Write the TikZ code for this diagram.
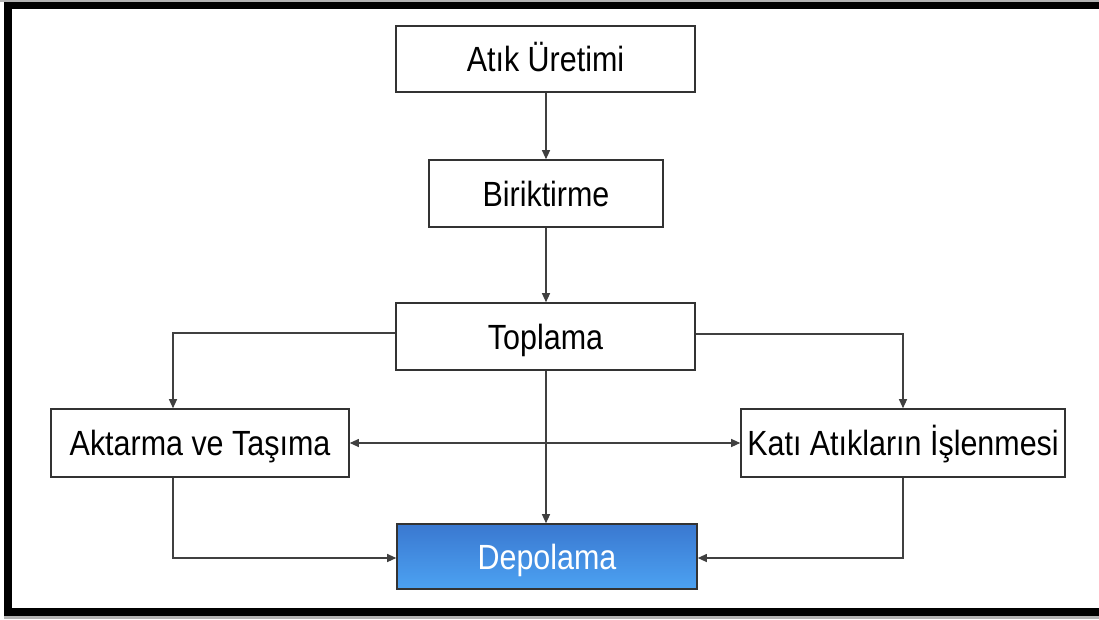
\documentclass[tikz,border=0pt]{standalone}
\usepackage{fontspec}
\newfontfamily\labfont[FakeStretch=0.87]{Liberation Sans}
\usetikzlibrary{arrows.meta}
\definecolor{boxline}{HTML}{333333}
\definecolor{conline}{HTML}{404040}
\definecolor{deptop}{HTML}{3A78D0}
\definecolor{depbot}{HTML}{4CA2F2}
\tikzset{
  stagebox/.style={draw=boxline, line width=1.6pt, fill=white, inner sep=0pt,
    text height=25pt, text depth=0pt, font=\labfont\fontsize{35}{40}\selectfont, text=black},
  bluebox/.style={stagebox, top color=deptop, bottom color=depbot, text=white},
  conn/.style={draw=conline, line width=1.1pt, -{Triangle[length=9pt,width=8pt]}},
  dconn/.style={draw=conline, line width=1.1pt, {Triangle[length=9pt,width=8pt]}-{Triangle[length=9pt,width=8pt]}},
  plain/.style={draw=conline, line width=1.1pt}
}
\begin{document}
\begin{tikzpicture}[x=1pt,y=-1pt]
\useasboundingbox (0,0) rectangle (1099,619);
\fill[white] (0,0) rectangle (1099,619);
% frame
\fill[gray!60] (0,0) rectangle (1099,2);
\fill[gray!60] (4,616) rectangle (1099,619);
\fill[black] (4,2) rectangle (1099,9);
\fill[black] (4,2) rectangle (12,616);
\fill[black] (4,608) rectangle (1099,616);
% nodes
\node[stagebox, minimum width=299pt, minimum height=66pt] (uretim) at (545.5,59) {Atık Üretimi};
\node[stagebox, minimum width=234pt, minimum height=67pt] (birik) at (546,193.5) {Biriktirme};
\node[stagebox, minimum width=299pt, minimum height=67pt] (topla) at (545.5,336.5) {Toplama};
\node[stagebox, minimum width=298pt, minimum height=68pt] (aktar) at (200,443) {Aktarma ve Taşıma};
\node[stagebox, minimum width=324pt, minimum height=68pt] (isle) at (903,443) {Katı Atıkların İşlenmesi};
\node[bluebox, minimum width=300pt, minimum height=65pt] (depo) at (547,556.5) {Depolama};
% helper coordinates
\coordinate (cl) at (173,333);
\coordinate (cr) at (903,334);
\coordinate (bl) at (173,558);
\coordinate (br) at (903,558);
\coordinate (mx) at (546,0);
% connectors
\draw[conn] (uretim.south -| mx) -- (birik.north -| mx);
\draw[conn] (birik.south -| mx) -- (topla.north -| mx);
\draw[conn] (topla.south -| mx) -- (depo.north -| mx);
\draw[conn] (topla.west |- cl) -- (cl) -- (cl |- aktar.north);
\draw[conn] (topla.east |- cr) -- (cr) -- (cr |- isle.north);
\draw[dconn] (aktar.east) -- (isle.west);
\draw[conn] (bl |- aktar.south) -- (bl) -- (depo.west |- bl);
\draw[conn] (br |- isle.south) -- (br) -- (depo.east |- br);
\end{tikzpicture}
\end{document}
